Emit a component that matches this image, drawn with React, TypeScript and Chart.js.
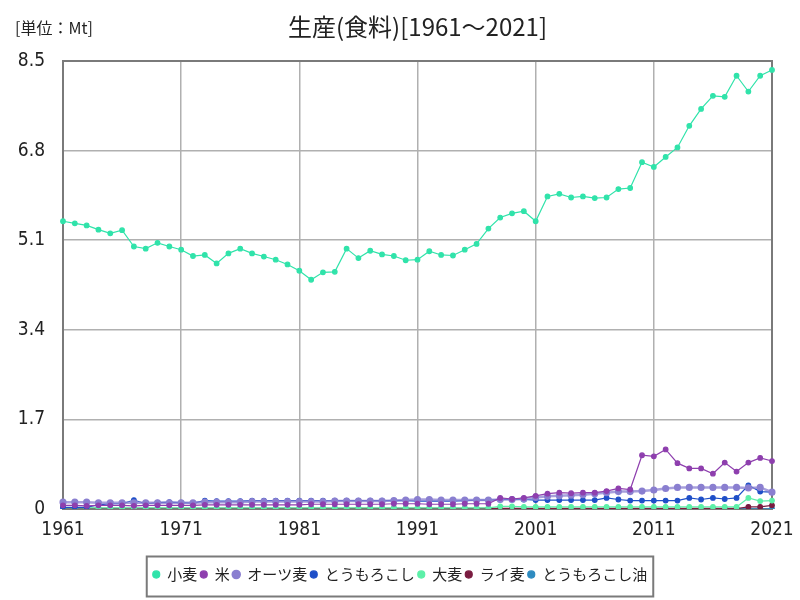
import { useEffect, useRef } from "react";
import { Chart, registerables } from "chart.js";

Chart.register(...registerables);

const TITLE = "生産(食料)[1961～2021]";
const UNIT = "[単位：Mt]";

const years = [
  "1961","1962","1963","1964","1965","1966","1967","1968","1969","1970",
  "1971","1972","1973","1974","1975","1976","1977","1978","1979","1980",
  "1981","1982","1983","1984","1985","1986","1987","1988","1989","1990",
  "1991","1992","1993","1994","1995","1996","1997","1998","1999","2000",
  "2001","2002","2003","2004","2005","2006","2007","2008","2009","2010",
  "2011","2012","2013","2014","2015","2016","2017","2018","2019","2020","2021",
];

const yTicks = [0, 1.7, 3.4, 5.1, 6.8, 8.5];

const wheat = [
  5.46, 5.42, 5.38, 5.30, 5.23, 5.29, 4.98, 4.94, 5.05, 4.98,
  4.92, 4.80, 4.82, 4.66, 4.85, 4.94, 4.85, 4.79, 4.73, 4.64,
  4.52, 4.35, 4.49, 4.50, 4.94, 4.76, 4.90, 4.83, 4.80, 4.72,
  4.73, 4.89, 4.82, 4.81, 4.92, 5.03, 5.32, 5.53, 5.61, 5.65,
  5.46, 5.93, 5.98, 5.91, 5.93, 5.90, 5.91, 6.07, 6.09, 6.58,
  6.49, 6.68, 6.86, 7.27, 7.59, 7.84, 7.82, 8.22, 7.92, 8.22, 8.33,
];

const rice = [
  0.07, 0.07, 0.06, 0.07, 0.07, 0.07, 0.06, 0.07, 0.07, 0.07,
  0.07, 0.07, 0.08, 0.08, 0.08, 0.08, 0.08, 0.08, 0.08, 0.08,
  0.08, 0.09, 0.09, 0.09, 0.09, 0.09, 0.09, 0.09, 0.10, 0.10,
  0.10, 0.09, 0.09, 0.09, 0.10, 0.10, 0.10, 0.21, 0.19, 0.21,
  0.25, 0.29, 0.31, 0.30, 0.31, 0.31, 0.34, 0.39, 0.37, 1.02,
  1.00, 1.13, 0.87, 0.77, 0.77, 0.67, 0.88, 0.71, 0.88, 0.97, 0.91,
];

const oats = [
  0.13, 0.13, 0.13, 0.12, 0.12, 0.12, 0.12, 0.12, 0.12, 0.12,
  0.12, 0.12, 0.13, 0.13, 0.13, 0.13, 0.14, 0.14, 0.14, 0.14,
  0.14, 0.14, 0.14, 0.15, 0.15, 0.15, 0.15, 0.15, 0.16, 0.17,
  0.18, 0.18, 0.17, 0.17, 0.17, 0.17, 0.17, 0.18, 0.18, 0.19,
  0.22, 0.24, 0.25, 0.26, 0.27, 0.29, 0.31, 0.33, 0.33, 0.34,
  0.36, 0.39, 0.41, 0.41, 0.41, 0.41, 0.41, 0.41, 0.40, 0.41, 0.32,
];

const corn = [
  0.03, 0.03, 0.03, 0.08, 0.10, 0.10, 0.17, 0.10, 0.12, 0.13,
  0.12, 0.11, 0.16, 0.15, 0.15, 0.15, 0.16, 0.16, 0.16, 0.16,
  0.16, 0.16, 0.16, 0.16, 0.16, 0.16, 0.16, 0.16, 0.16, 0.16,
  0.15, 0.15, 0.15, 0.15, 0.16, 0.17, 0.17, 0.18, 0.18, 0.18,
  0.17, 0.17, 0.17, 0.17, 0.17, 0.17, 0.21, 0.18, 0.16, 0.16,
  0.16, 0.16, 0.16, 0.21, 0.18, 0.21, 0.19, 0.21, 0.45, 0.33, 0.32,
];

const barley = [
  0.02, 0.02, 0.02, 0.02, 0.02, 0.02, 0.02, 0.02, 0.02, 0.02,
  0.02, 0.02, 0.02, 0.02, 0.02, 0.02, 0.02, 0.02, 0.02, 0.02,
  0.02, 0.02, 0.02, 0.02, 0.02, 0.02, 0.02, 0.02, 0.02, 0.02,
  0.02, 0.02, 0.02, 0.02, 0.02, 0.02, 0.02, 0.05, 0.05, 0.04,
  0.04, 0.04, 0.04, 0.04, 0.04, 0.04, 0.04, 0.04, 0.04, 0.04,
  0.04, 0.04, 0.04, 0.04, 0.04, 0.04, 0.04, 0.04, 0.21, 0.15, 0.16,
];

const rye = [
  0.01, 0.01, 0.01, 0.01, 0.01, 0.01, 0.01, 0.01, 0.01, 0.01,
  0.01, 0.01, 0.01, 0.01, 0.01, 0.01, 0.01, 0.01, 0.01, 0.01,
  0.01, 0.01, 0.01, 0.01, 0.01, 0.01, 0.01, 0.01, 0.01, 0.01,
  0.01, 0.01, 0.01, 0.01, 0.01, 0.01, 0.01, 0.01, 0.01, 0.01,
  0.01, 0.01, 0.01, 0.01, 0.01, 0.01, 0.01, 0.01, 0.01, 0.01,
  0.01, 0.01, 0.01, 0.01, 0.01, 0.01, 0.01, 0.01, 0.04, 0.04, 0.07,
];

const cornOil = [
  0.005, 0.005, 0.005, 0.005, 0.005, 0.005, 0.005, 0.005, 0.005, 0.005,
  0.005, 0.005, 0.005, 0.005, 0.005, 0.005, 0.005, 0.005, 0.005, 0.005,
  0.005, 0.005, 0.005, 0.005, 0.005, 0.005, 0.005, 0.005, 0.005, 0.005,
  0.005, 0.005, 0.005, 0.005, 0.005, 0.005, 0.005, 0.005, 0.005, 0.005,
  0.005, 0.005, 0.005, 0.005, 0.005, 0.005, 0.005, 0.005, 0.005, 0.005,
  0.005, 0.005, 0.005, 0.005, 0.005, 0.005, 0.005, 0.005, 0.005, 0.005, 0.005,
];

const seriesNames = ["小麦", "米", "オーツ麦", "とうもろこし", "大麦", "ライ麦", "とうもろこし油"];
const seriesColors = ["#30e3aa", "#8e3fae", "#8a7fd0", "#1e4fc8", "#5cf0a8", "#7a1c40", "#2e8bc0"];
const seriesData = [wheat, rice, oats, corn, barley, rye, cornOil];

const JP = '"Noto Sans CJK JP", sans-serif';
const NUM = '"Liberation Sans Narrow", "DejaVu Sans Condensed", "Noto Sans CJK JP", sans-serif';

const decoPlugin = {
  id: "deco",
  afterLayout(chart: any) {
    const lg = chart.legend;
    if (lg) {
      // center the legend on the full canvas width
      const shift = (chart.width - (lg.left + lg.right)) / 2;
      lg.left += shift;
      lg.right += shift;
      for (const h of lg.legendHitBoxes || []) h.left += shift;
    }
  },
  beforeDatasetsDraw(chart: any) {
    const { ctx, chartArea: a } = chart;
    ctx.save();
    ctx.strokeStyle = "#7a7a7a";
    ctx.lineWidth = 2;
    ctx.strokeRect(a.left, a.top, a.right - a.left, a.bottom - a.top);
    ctx.restore();
  },
  afterDraw(chart: any) {
    const { ctx, chartArea: a } = chart;
    ctx.save();
    ctx.fillStyle = "#222";
    ctx.textBaseline = "middle";
    ctx.textAlign = "center";
    ctx.font = `24px ${JP}`;
    ctx.fillText(TITLE, (a.left + a.right) / 2, 27);
    ctx.textAlign = "left";
    ctx.font = `16px ${JP}`;
    ctx.fillText(UNIT, 15, 28);
    const boxes = chart.legend?.legendHitBoxes || [];
    if (boxes.length) {
      let l = Infinity, r = -Infinity, cy = 0;
      for (const h of boxes) {
        l = Math.min(l, h.left);
        r = Math.max(r, h.left + h.width);
        cy += h.top + h.height / 2;
      }
      cy /= boxes.length;
      ctx.strokeStyle = "#7a7a7a";
      ctx.lineWidth = 2;
      ctx.strokeRect(l - 6, cy - 18, r - l + 12, 40);
    }
    ctx.restore();
  },
};

export default function App() {
  const ref = useRef<HTMLCanvasElement | null>(null);
  useEffect(() => {
    if (!ref.current) return;
    const chart = new Chart(ref.current, {
      type: "line",
      data: {
        labels: years,
        datasets: seriesNames.map((name, i) => ({
          label: name,
          data: seriesData[i],
          borderColor: i === 2 ? "rgba(138,127,208,0.75)" : seriesColors[i],
          backgroundColor: seriesColors[i],
          pointBackgroundColor: seriesColors[i],
          pointBorderColor: seriesColors[i],
          borderWidth: i === 2 ? 2.5 : 1.2,
          pointRadius: 2.3,
          pointHoverRadius: 3,
          tension: 0,
        })),
      },
      options: {
        animation: false,
        responsive: true,
        maintainAspectRatio: false,
        layout: { padding: { top: 61, right: 28, left: 0, bottom: 8 } },
        plugins: {
          title: { display: false },
          tooltip: { enabled: false },
          legend: {
            position: "bottom",
            labels: {
              usePointStyle: true,
              pointStyle: "circle",
              boxHeight: 5,
              pointStyleWidth: 7,
              padding: 3,
              color: "#222",
              font: { family: JP, size: 15 },
            },
          },
        },
        scales: {
          x: {
            type: "category",
            offset: false,
            border: { display: false },
            grid: {
              drawTicks: false,
              lineWidth: 1.5,
              color: (c: any) => (c.index % 10 === 0 ? "#b0b0b0" : "rgba(0,0,0,0)"),
            },
            ticks: {
              autoSkip: false,
              maxRotation: 0,
              padding: 10,
              color: "#222",
              font: { family: NUM, size: 19 },
              callback: (_v: any, i: number) => (i % 10 === 0 ? years[i] : ""),
            },
            afterFit: (s: any) => {
              s.height = 55;
              s.paddingLeft = 0;
              s.paddingRight = 0;
            },
          },
          y: {
            min: 0,
            max: 8.5,
            border: { display: false },
            afterBuildTicks: (s: any) => {
              s.ticks = yTicks.map((v) => ({ value: v }));
            },
            grid: { drawTicks: false, lineWidth: 1.5, color: "#b0b0b0" },
            ticks: {
              padding: 18,
              color: "#222",
              font: { family: NUM, size: 19 },
              callback: (v: any) => (v === 0 ? "0" : Number(v).toFixed(1)),
            },
            afterFit: (s: any) => {
              s.width = 63;
            },
          },
        },
      },
      plugins: [decoPlugin],
    });
    return () => chart.destroy();
  }, []);
  return (
    <div style={{ position: "fixed", left: 0, top: 0, width: 800, height: 600, background: "#fff" }}>
      <canvas ref={ref} />
    </div>
  );
}
